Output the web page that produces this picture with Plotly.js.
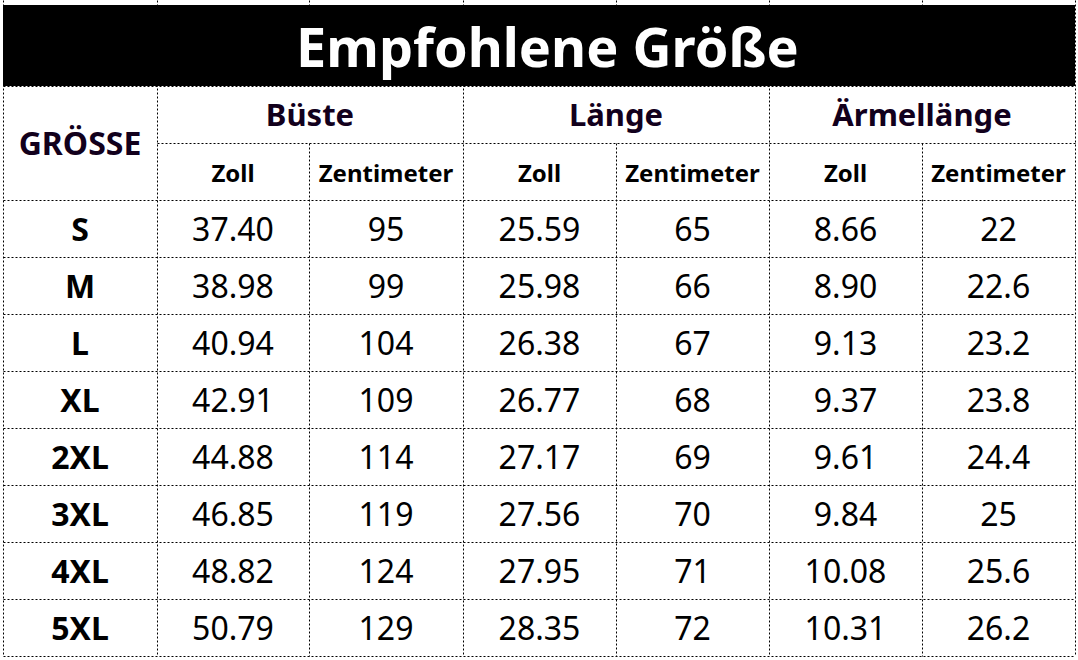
<!DOCTYPE html>
<html>
<head>
<meta charset="utf-8">
<script src="https://cdn.plot.ly/plotly-3.0.1.min.js"></script>
<style>html,body{margin:0;padding:0;background:#fff;}#chart{width:1078px;height:660px;}</style>
</head>
<body>
<div id="chart"></div>
<script>
// ---- data ----
const tableTitle = 'Empfohlene Größe';
const sizeHeader = 'GRÖSSE';
const groups = ['Büste', 'Länge', 'Ärmellänge'];
const units = ['Zoll', 'Zentimeter'];
const sizes = ['S', 'M', 'L', 'XL', '2XL', '3XL', '4XL', '5XL'];
const bustIn = [37.40, 38.98, 40.94, 42.91, 44.88, 46.85, 48.82, 50.79];
const bustCm = [95, 99, 104, 109, 114, 119, 124, 129];
const lengthIn = [25.59, 25.98, 26.38, 26.77, 27.17, 27.56, 27.95, 28.35];
const lengthCm = [65, 66, 67, 68, 69, 70, 71, 72];
const sleeveIn = [8.66, 8.90, 9.13, 9.37, 9.61, 9.84, 10.08, 10.31];
const sleeveCm = [22, 22.6, 23.2, 23.8, 24.4, 25, 25.6, 26.2];

// ---- layout geometry (pixel-like axis units) ----
const colEdges = [3, 157, 309, 463, 616, 769, 922, 1075];
const rowEdges = [5, 86, 143, 200, 257, 314, 371, 428, 485, 542, 599, 656];
const FONT = '"Noto Sans", "Open Sans", sans-serif';
const HEAD_COLOR = '#12001c';
const LINE_COLOR = '#000000';
const TEXT_DY = 4;   // optical vertical offset of text inside cells
const TITLE_DX = 8;  // title sits slightly right of centre in the reference
const PX = 0.5;      // half-pixel offset for crisp 1px lines

const colMid = i => (colEdges[i] + colEdges[i + 1]) / 2;
const rowMid = i => (rowEdges[i] + rowEdges[i + 1]) / 2 + TEXT_DY;

const valueCols = [
  bustIn.map(v => v.toFixed(2)), bustCm.map(v => String(v)),
  lengthIn.map(v => v.toFixed(2)), lengthCm.map(v => String(v)),
  sleeveIn.map(v => v.toFixed(2)), sleeveCm.map(v => String(v))
];

// header level 1
const h1x = [colMid(0)], h1y = [(rowEdges[1] + rowEdges[3]) / 2 + TEXT_DY], h1t = [sizeHeader];
groups.forEach((g, k) => {
  h1x.push((colEdges[1 + 2 * k] + colEdges[3 + 2 * k]) / 2);
  h1y.push(rowMid(1));
  h1t.push(g);
});
// header level 2
const h2x = [], h2y = [], h2t = [];
groups.forEach((g, k) => {
  units.forEach((u, j) => {
    h2x.push(colMid(1 + 2 * k + j));
    h2y.push(rowMid(2));
    h2t.push(u);
  });
});
// size labels
const sx = sizes.map(() => colMid(0));
const sy = sizes.map((s, r) => rowMid(3 + r));
// values
const vx = [], vy = [], vt = [];
valueCols.forEach((col, c) => {
  col.forEach((t, r) => {
    vx.push(colMid(1 + c));
    vy.push(rowMid(3 + r));
    vt.push(t);
  });
});

const textTrace = (x, y, text, size, color) => ({
  type: 'scatter', mode: 'text', x, y, text,
  textposition: 'middle center',
  textfont: {family: FONT, size, color},
  hoverinfo: 'skip', showlegend: false, cliponaxis: false
});

const traces = [
  textTrace(h1x.slice(0, 1), h1y.slice(0, 1), h1t.slice(0, 1).map(t => '<b>' + t + '</b>'), 32, HEAD_COLOR),
  textTrace(h1x.slice(1), h1y.slice(1), h1t.slice(1).map(t => '<b>' + t + '</b>'), 31, HEAD_COLOR),
  textTrace(h2x, h2y, h2t.map(t => '<b>' + t + '</b>'), 24, '#000'),
  textTrace(sx, sy, sizes.map(t => '<b>' + t + '</b>'), 32, '#000'),
  textTrace(vx, vy, vt, 32, '#000')
];

// ---- grid lines ----
const shapes = [];
const dotted = {color: LINE_COLOR, width: 1, dash: '2px,2px'};
const hline = (y, x0, x1) => shapes.push({type: 'line', xref: 'x', yref: 'y', x0: x0 + PX, x1: x1 + PX, y0: y + PX, y1: y + PX, line: dotted, layer: 'below'});
const vline = (x, y0, y1) => shapes.push({type: 'line', xref: 'x', yref: 'y', x0: x + PX, x1: x + PX, y0: y0 + PX, y1: y1 + PX, line: dotted, layer: 'below'});

rowEdges.forEach((y, i) => {
  if (i === 2) hline(y, colEdges[1], colEdges[7]);
  else hline(y, colEdges[0], colEdges[7]);
});
colEdges.forEach((x, i) => {
  if (i === 2 || i === 4 || i === 6) {
    vline(x, 0, rowEdges[0]);
    vline(x, rowEdges[2], rowEdges[11]);
  } else {
    vline(x, 0, rowEdges[11]);
  }
});
// title bar
shapes.push({type: 'rect', xref: 'x', yref: 'y', x0: colEdges[0], x1: colEdges[7], y0: rowEdges[0], y1: rowEdges[1],
  fillcolor: '#000', line: {width: 0}, layer: 'above'});

const layout = {
  width: 1078, height: 660,
  margin: {l: 0, r: 0, t: 0, b: 0, pad: 0},
  paper_bgcolor: '#fff', plot_bgcolor: '#fff',
  xaxis: {range: [0, 1078], visible: false, fixedrange: true},
  yaxis: {range: [660, 0], visible: false, fixedrange: true},
  shapes,
  annotations: [{
    xref: 'x', yref: 'y', x: (colEdges[0] + colEdges[7]) / 2 + TITLE_DX, y: (rowEdges[0] + rowEdges[1]) / 2,
    text: '<b>' + tableTitle + '</b>', showarrow: false,
    font: {family: FONT, size: 54, color: '#fff'},
    xanchor: 'center', yanchor: 'middle'
  }],
  showlegend: false
};

Plotly.newPlot('chart', traces, layout, {displayModeBar: false, staticPlot: true});
</script>
</body>
</html>
